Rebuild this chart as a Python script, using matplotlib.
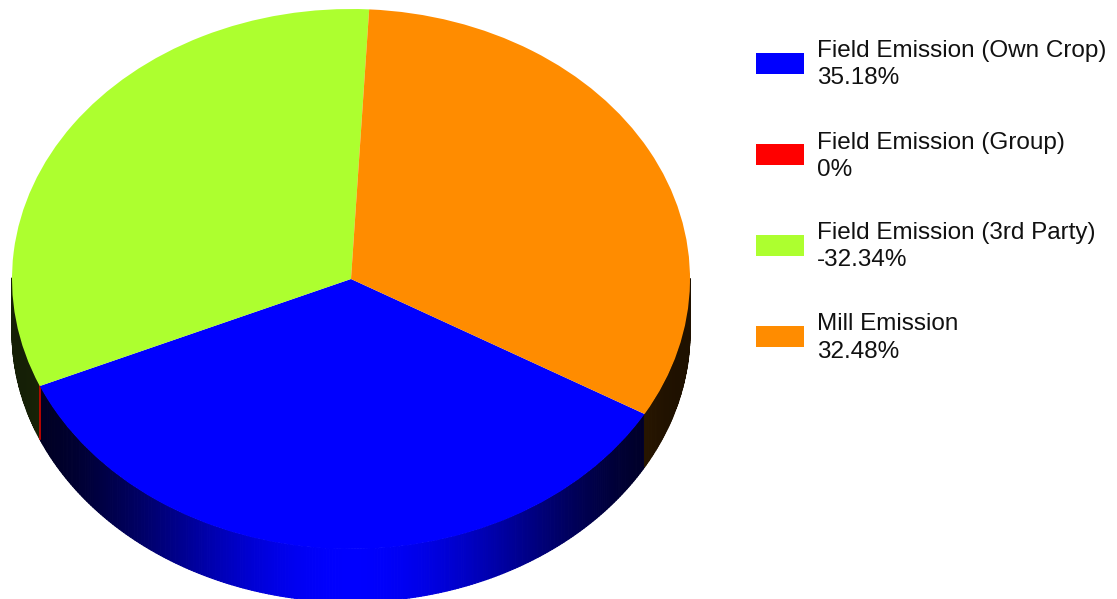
import numpy as np
import matplotlib.pyplot as plt
from matplotlib.patches import Rectangle
from matplotlib.collections import PolyCollection
from matplotlib.colors import to_rgb

# Chart Data
categories = ['Field Emission (Own Crop)', 'Field Emission (Group)',
              'Field Emission (3rd Party)', 'Mill Emission']
percent_values = [35.18, 0, -32.34, 32.48]
slice_colors = ['#0000FF', '#FF0000', '#ADFF2F', '#FF8C00']

# Layout (pixels)
W, H = 1117, 599
cx, cy = 351, 279      # centre of the top ellipse
rx, ry = 339, 270      # radii of the top ellipse
depth = 53             # thickness of the 3D side

fig = plt.figure(figsize=(W / 100, H / 100), dpi=100)
ax = fig.add_axes([0, 0, 1, 1])

# Top face: a unit pie squashed into an ellipse by the axes limits
sizes = np.abs(percent_values)
wedges, _ = ax.pie(sizes, colors=slice_colors, startangle=-30,
                   counterclock=False, radius=1,
                   wedgeprops={'linewidth': 0, 'zorder': 3})

# Side wall: thin shaded strips along the front half of each wedge
D = depth / ry
polys, cols = [], []
for w, col in zip(wedges, slice_colors):
    t1, t2 = w.theta1, w.theta2
    n = max(int(abs(t2 - t1) * 2), 1)
    edges = np.linspace(t1, t2, n + 1)
    for a0, a1 in zip(edges[:-1], edges[1:]):
        mid = np.deg2rad((a0 + a1) / 2)
        if np.sin(mid) >= 0:
            continue
        r0, r1 = np.deg2rad(a0), np.deg2rad(a1)
        polys.append([(np.cos(r0), np.sin(r0)), (np.cos(r1), np.sin(r1)),
                      (np.cos(r1), np.sin(r1) - D), (np.cos(r0), np.sin(r0) - D)])
        u = abs(np.cos(mid))
        shade = 0.12 + 0.88 * np.cos(u * np.pi / 2) ** 2
        cols.append(np.array(to_rgb(col)) * shade)
    # a zero slice only shows as an edge line on the side
    if abs(t2 - t1) < 1e-9:
        r = np.deg2rad(t1)
        if np.sin(r) < 0:
            ax.plot([np.cos(r), np.cos(r)], [np.sin(r), np.sin(r) - D],
                    color=col, lw=1.2, alpha=0.8, zorder=2)

ax.add_collection(PolyCollection(polys, facecolors=cols, edgecolors=cols,
                                 linewidths=0.8, zorder=1))

ax.set_aspect('auto')
ax.set_xlim(-cx / rx, (W - cx) / rx)
ax.set_ylim((cy - H) / ry, cy / ry)
ax.axis('off')

# Legend
lax = fig.add_axes([0, 0, 1, 1])
lax.set_xlim(0, W)
lax.set_ylim(H, 0)
lax.axis('off')
for i, (name, val, col) in enumerate(zip(categories, percent_values, slice_colors)):
    yc = 63.5 + i * 91
    lax.add_patch(Rectangle((756, yc - 10.5), 48, 21, facecolor=col, edgecolor='none'))
    lax.text(817, yc - 6, name, fontsize=17.5, family='Liberation Sans',
             va='baseline', ha='left', color='#111111')
    lax.text(817, yc + 21, f'{val:g}%', fontsize=17.5, family='Liberation Sans',
             va='baseline', ha='left', color='#111111')

fig.savefig('out.png', dpi=100)
